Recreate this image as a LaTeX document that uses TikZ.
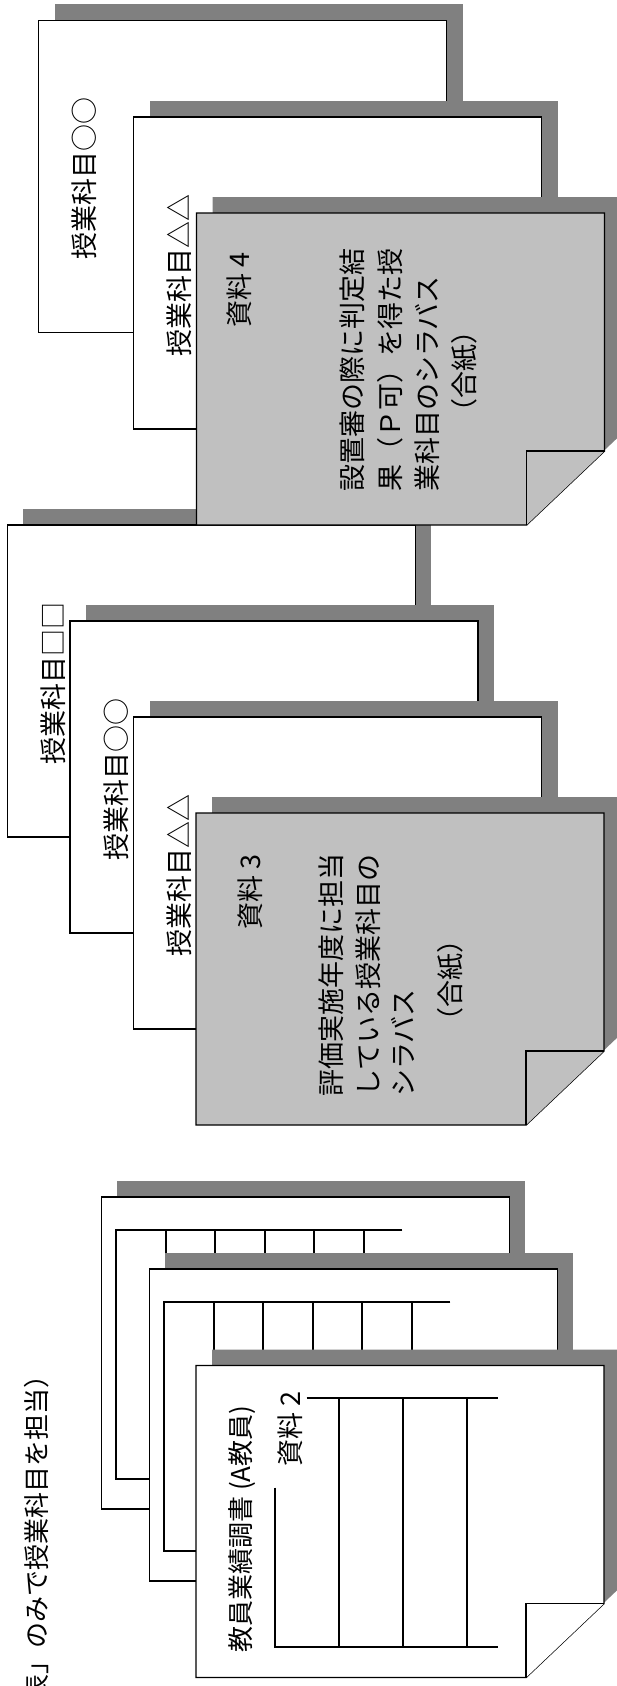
\documentclass[tikz,border=0pt]{standalone}
\usepackage{fontspec}
\newfontfamily\jp{Noto Sans CJK JP}
\definecolor{shadowgray}{HTML}{808080}
\definecolor{cardgray}{HTML}{C0C0C0}
\tikzset{
  cardedge/.style={draw=black, line width=1.4pt, line join=miter},
  shadowfill/.style={fill=shadowgray},
  tablerule/.style={draw=black, line width=2pt},
  lbl/.style={font=\jp\fontsize{27}{37}\selectfont, inner sep=0pt, rotate=90},
  smalllbl/.style={font=\jp\fontsize{26}{34}\selectfont, inner sep=0pt, rotate=90},
  titlelbl/.style={font=\jp\fontsize{26}{34}\selectfont, inner sep=0pt, rotate=90},
}
% plain card: x, y (top-left, y downwards), fill
\newcommand\plaincard[3]{%
  \path[shadowfill] (#1+16,#2-16) rectangle ++(408,312);
  \path[cardedge, fill=#3] (#1,#2) rectangle ++(408,312);
}
% folded-corner card
\newcommand\foldcard[3]{%
  \path[shadowfill] (#1+16,#2-16) -- ++(408,0) -- ++(0,238) -- ++(-78,74) -- ++(-330,0) -- cycle;
  \path[cardedge, fill=#3] (#1,#2) -- ++(408,0) -- ++(0,238) -- ++(-78,74) -- ++(-330,0) -- cycle;
  \path[cardedge, fill=#3] (#1+330,#2+312) -- ++(0,-74) -- ++(78,0);
}
% grid table on the back record sheets
\newcommand\gridtable[2]{%
  \draw[tablerule] (#1+301,#2+33) -- (#1+15,#2+33) -- (#1+15,#2+282) -- (#1+301,#2+282);
  \foreach \k in {0,...,4}{
    \draw[tablerule] (#1+64.5+49.5*\k,#2+33) -- (#1+64.5+49.5*\k,#2+282);
  }
}
\begin{document}
\begin{tikzpicture}[x=1pt,y=-1pt]
\useasboundingbox (0,0) rectangle (616,1686);
\fill[white] (0,0) rectangle (616,1686);

% ---------- middle group ----------
\plaincard{7.3}{525}{white}
\node[lbl] (tD) at (53.3,683) {授業科目□□};
\plaincard{70}{621}{white}
\node[lbl] (tE) at (116,779) {授業科目○○};
\plaincard{133.5}{717}{white}
\node[lbl] (tF) at (179.5,875) {授業科目△△};
\foldcard{196}{813}{cardgray}
\node[lbl] (s3) at (250,892) {資料 3};
\node[lbl, anchor=west] (g1) at (331,1097) {評価実施年度に担当};
\node[lbl, anchor=west] (g2) at (368.5,1097) {している授業科目の};
\node[lbl, anchor=west] (g3) at (403,1097) {シラバス};
\node[lbl] (g4) at (450,980) {（合紙）};

% ---------- top group ----------
\plaincard{38.5}{20.5}{white}
\node[lbl] (tA) at (84.5,178.5) {授業科目○○};
\plaincard{133.5}{117}{white}
\node[lbl] (tB) at (179.5,275) {授業科目△△};
\foldcard{196.5}{213}{cardgray}
\node[lbl] (s4) at (239,290) {資料 4};
\node[lbl, anchor=west] (c1) at (352.5,492) {設置審の際に判定結};
\node[lbl, anchor=west] (c2) at (390,492) {果（Ｐ可）を得た授};
\node[lbl, anchor=west] (c3) at (427.5,492) {業科目のシラバス};
\node[lbl] (c4) at (464.5,371) {（合紙）};

% ---------- bottom group ----------
\plaincard{101.4}{1197}{white}
\gridtable{101.4}{1197}
\plaincard{149.3}{1269}{white}
\gridtable{149.3}{1269}
\foldcard{196}{1365.5}{white}
\draw[tablerule] (306.7,1397.7) -- (498,1397.7);
\draw[tablerule] (275,1487.7) -- (275,1646.7) -- (498,1646.7);
\foreach \cx in {339,402.7,466.7}{
  \draw[tablerule] (\cx,1397.7) -- (\cx,1646.7);
}
\node[smalllbl, anchor=west] (j1) at (242.5,1653) {教員業績調書 (A教員)};
\node[lbl] (s2) at (290,1429) {資料 2};

% ---------- title ----------
\node[titlelbl, anchor=west] (title) at (36.7,1701) {表」のみで授業科目を担当）};
\end{tikzpicture}
\end{document}
